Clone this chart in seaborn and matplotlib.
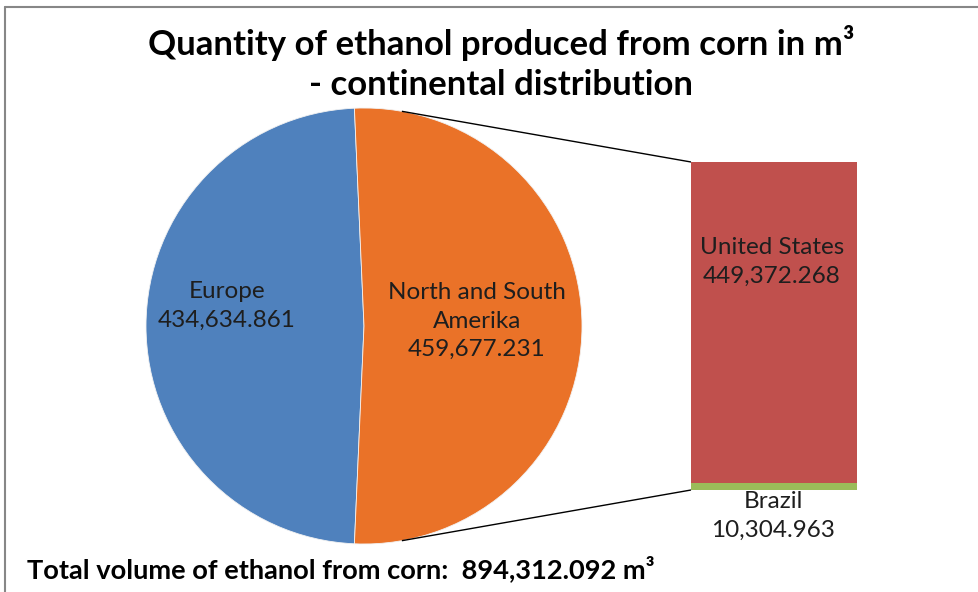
import numpy as np
import matplotlib
matplotlib.use("Agg")
import matplotlib.pyplot as plt
from matplotlib.lines import Line2D
import pandas as pd
import seaborn as sns

# ---- data ----
continents = ["Europe", "North and South\nAmerika"]
continent_values = [434634.861, 459677.231]
continent_texts = ["434,634.861", "459,677.231"]
countries = ["United States", "Brazil"]
country_values = [449372.268, 10304.963]
country_texts = ["449,372.268", "10,304.963"]
title = "Quantity of ethanol produced from corn in m³\n- continental distribution"
total_label = "Total volume of ethanol from corn:  894,312.092 m³"

pie_colors = ["#4F81BD", "#EA7228"]
bar_colors = {"United States": "#C0504D", "Brazil": "#9BBB59"}

sns.set_theme(style="white")
plt.rcParams['font.family'] = ['Lato', 'DejaVu Sans']

W, H = 979, 592
fig = plt.figure(figsize=(W / 100, H / 100), dpi=100)
fig.patch.set_facecolor("white")
ax = fig.add_axes([0, 0, 1, 1])

# pie geometry (pixel coords, y up)
cx, cy, R = 364, H - 326, 218
total = sum(continent_values)
amer_angle = 360 * continent_values[1] / total
start = 90 + (amer_angle - 180) / 2
wedges, _ = ax.pie(continent_values, colors=pie_colors, startangle=start,
                   center=(cx, cy), radius=R, frame=True,
                   wedgeprops=dict(linewidth=0.6, edgecolor="#F2F2F2"))
ax.set_aspect("auto")
ax.set_xlim(0, W)
ax.set_ylim(0, H)
ax.axis("off")

txt_color = "#1E1E1E"
fs = 17.5
ls = 1.42


def label(x, y, s):
    fig.text(x / W, 1 - y / H, s, ha="center", va="center", fontsize=fs,
             color=txt_color, linespacing=ls, zorder=10)


# bar of pie
bx0, bx1, by_top, by_bot = 691, 857, 162, 490
bax = fig.add_axes([bx0 / W, (H - by_bot) / H, (bx1 - bx0) / W, (by_bot - by_top) / H])
sub_total = sum(country_values)
df_tot = pd.DataFrame({"k": ["x"], "v": [sub_total]})
df_br = pd.DataFrame({"k": ["x"], "v": [country_values[1]]})
sns.barplot(data=df_tot, x="k", y="v", color=bar_colors["United States"],
            saturation=1, width=1.0, ax=bax, linewidth=0)
sns.barplot(data=df_br, x="k", y="v", color=bar_colors["Brazil"],
            saturation=1, width=1.0, ax=bax, linewidth=0)
bax.set_xlim(-0.5, 0.5)
bax.set_ylim(0, sub_total)
bax.axis("off")

label(227, 306, continents[0] + "\n" + continent_texts[0])
label(477, 321, continents[1] + "\n" + continent_texts[1])
label(772, 262, countries[0] + "\n" + country_texts[0])
label(773, 516, countries[1] + "\n" + country_texts[1])

# connector lines from pie edge to bar corners
conn_angle = np.deg2rad(80)
for sgn, by in [(1, by_top), (-1, by_bot)]:
    px = cx + R * np.cos(conn_angle)
    py = cy + sgn * R * np.sin(conn_angle)
    ax.plot([px, bx0], [py, H - by], color="black", lw=1.0, solid_capstyle="butt")

# title and footer
fig.text(501 / W, 1 - 63 / H, title, ha="center", va="center", fontsize=25,
         fontweight="bold", color="black", linespacing=1.27)
fig.text(27 / W, 14 / H, total_label, ha="left", va="baseline", fontsize=19.6,
         fontweight="bold", color="black")

# chart border (top and left)
fig.add_artist(Line2D([5.5 / W, 1], [1 - 6.5 / H, 1 - 6.5 / H], color="#878787",
                      lw=1.5, transform=fig.transFigure))
fig.add_artist(Line2D([5.5 / W, 5.5 / W], [0, 1 - 6.5 / H], color="#878787",
                      lw=1.5, transform=fig.transFigure))

fig.savefig("out.png", dpi=100)
